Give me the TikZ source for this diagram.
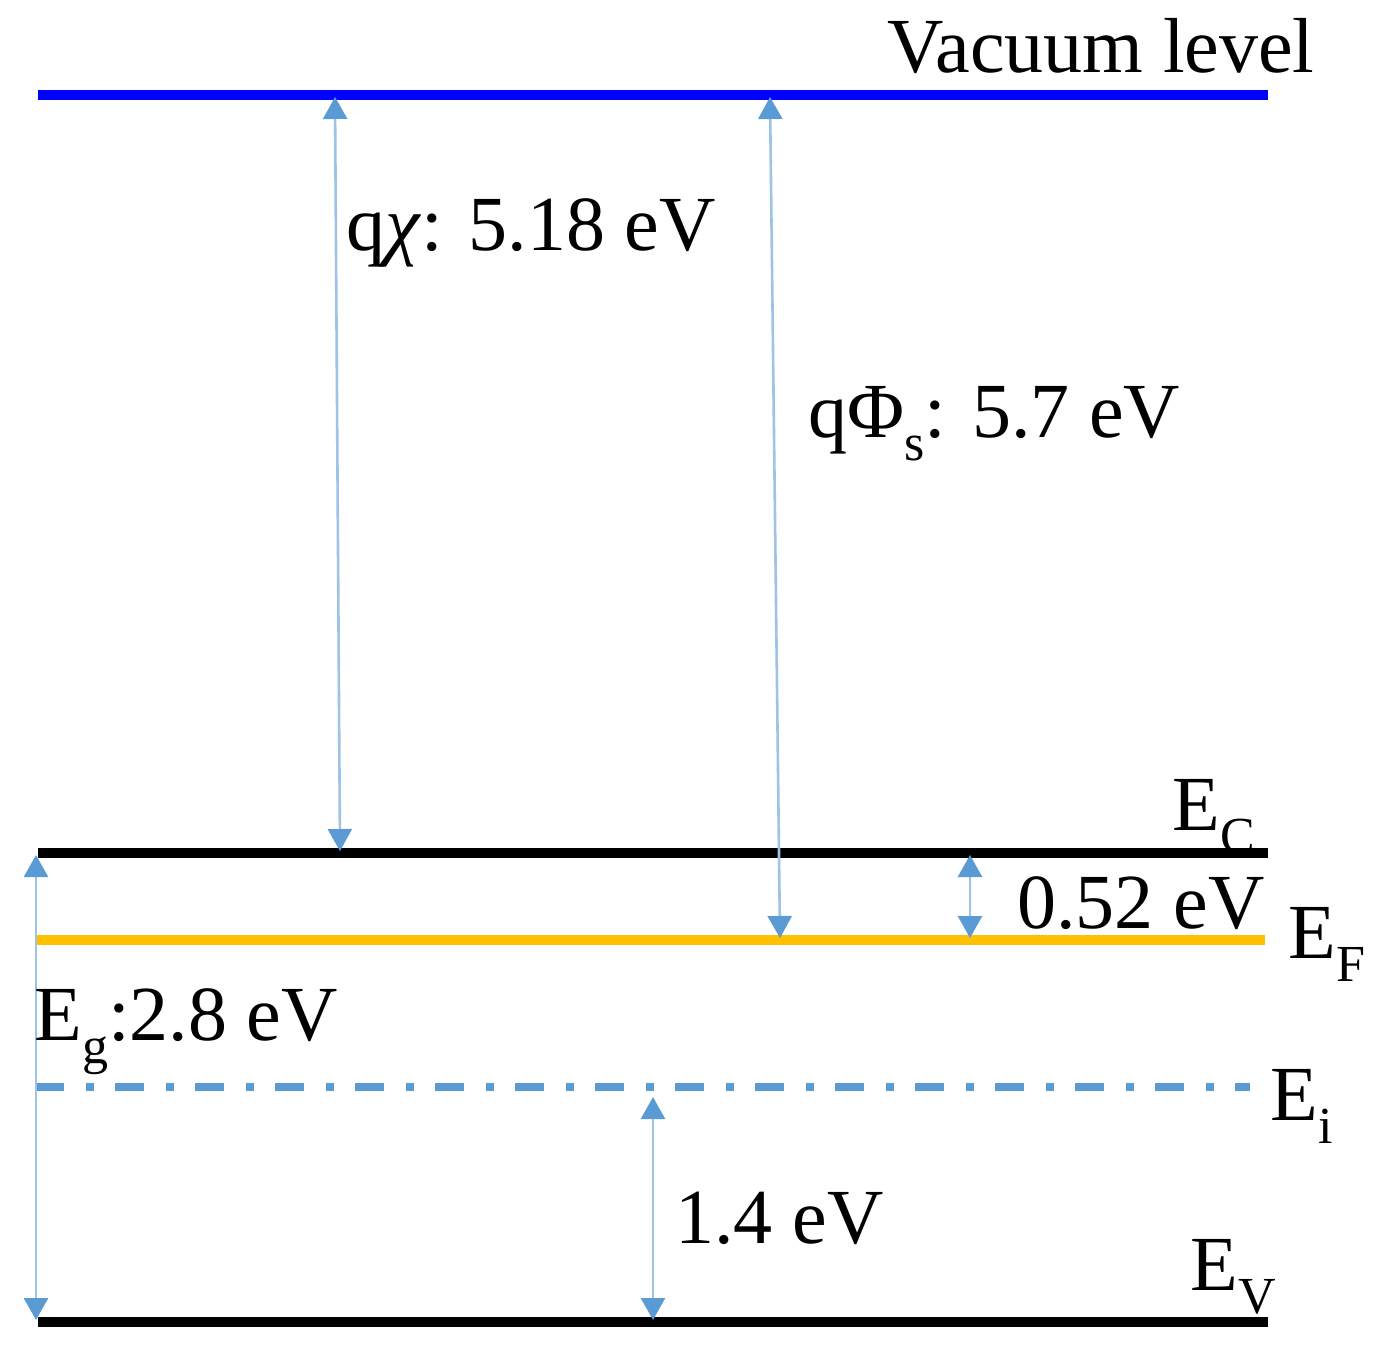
\documentclass[tikz,border=0pt]{standalone}
\usepackage{fontspec}
\setmainfont{Liberation Serif}
\usetikzlibrary{arrows.meta}
\definecolor{vacblue}{RGB}{0,0,255}
\definecolor{fermi}{RGB}{255,192,0}
\definecolor{headblue}{RGB}{91,155,213}
\definecolor{shaftblue}{RGB}{157,195,230}
\tikzset{
  level/.style={line width=4.8pt},
  gap/.style={draw=shaftblue, line width=1.3pt,
    {Triangle[width=12pt,length=11pt,color=headblue]}-{Triangle[width=12pt,length=11pt,color=headblue]}},
  lbl/.style={inner sep=0pt, font=\fontsize{39pt}{44pt}\selectfont},
}
\newcommand{\lsub}[1]{\raisebox{-0.3em}{\fontsize{26pt}{28pt}\selectfont #1}}
\begin{document}
\begin{tikzpicture}[x=0.5pt,y=-0.5pt]
\useasboundingbox (0,0) rectangle (1387,1355);
% levels
\coordinate (vacL) at (38,95);  \coordinate (vacR) at (1268,95);
\coordinate (ecL) at (38,853);  \coordinate (ecR) at (1268,853);
\coordinate (efL) at (35,940);  \coordinate (efR) at (1265,940);
\coordinate (eiL) at (35,1087); \coordinate (eiR) at (1250,1087);
\coordinate (evL) at (38,1322); \coordinate (evR) at (1268,1322);
\draw[level, vacblue] (vacL) -- (vacR);
\draw[level, black] (ecL) -- (ecR);
\draw[level, fermi] (efL) -- (efR);
\draw[line width=3.7pt, headblue, dash pattern=on 14.5pt off 11pt on 4pt off 10.5pt] (eiL) -- (eiR);
\draw[level, black] (evL) -- (evR);
% arrow end points
\coordinate (chiT) at (335,97);  \coordinate (chiB) at (340,851);
\coordinate (phiT) at (770,97);  \coordinate (phiB) at (780,938);
\coordinate (egT) at (36,855);   \coordinate (egB) at (36,1320);
\coordinate (dfT) at (970,855);  \coordinate (dfB) at (970,938);
\coordinate (hiT) at (653,1097); \coordinate (hiB) at (653,1320);
\draw[gap] (chiT) -- (chiB);
\draw[gap] (phiT) -- (phiB);
\draw[gap] (egT) -- (egB);
\draw[gap] (dfT) -- (dfB);
\draw[gap] (hiT) -- (hiB);
% labels
\node[lbl, anchor=base east, font=\fontsize{39pt}{44pt}\selectfont] (vac) at (1315,72) {Vacuum level};
\node[lbl, anchor=base west] (chi) at (346,250) {q\textit{χ}: 5.18 eV};
\node[lbl, anchor=base west] (phi) at (808,437) {qΦ\lsub{s}: 5.7 eV};
\node[lbl, anchor=base west] (ec) at (1172,830) {E\lsub{C}};
\node[lbl, anchor=base west] (df) at (1017,928) {0.52 eV};
\node[lbl, anchor=base west] (ef) at (1288,958) {E\lsub{F}};
\node[lbl, anchor=base west] (eg) at (34,1040) {E\lsub{g}:2.8 eV};
\node[lbl, anchor=base west] (ei) at (1270,1120) {E\lsub{i}};
\node[lbl, anchor=base west] (hi) at (675,1243) {1.4 eV};
\node[lbl, anchor=base west] (ev) at (1190,1290) {E\lsub{V}};
\end{tikzpicture}
\end{document}
